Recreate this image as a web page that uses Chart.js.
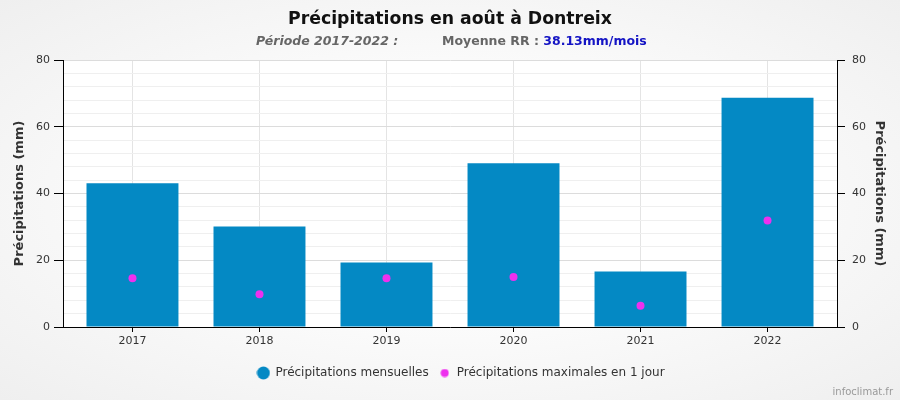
<!DOCTYPE html>
<html><head><meta charset="utf-8">
<script src="https://cdn.jsdelivr.net/npm/chart.js@4/dist/chart.umd.min.js"></script>
<style>
html,body{margin:0;padding:0}
body{width:900px;height:400px;overflow:hidden;position:relative;font-family:"DejaVu Sans",sans-serif;
background:radial-gradient(ellipse at center,#ffffff 0%,#fbfbfb 45%,#efefef 100%)}
#wrap{position:absolute;left:0;top:0;width:900px;height:400px}
#title{position:absolute;top:8px;left:0;width:900px;text-align:center;font-weight:bold;font-size:17.3px;color:#111;line-height:20px}
.sub{position:absolute;top:33px;font-weight:bold;font-size:12.5px;color:#666;line-height:16px;white-space:nowrap}
#credit{position:absolute;right:7px;top:386px;font-size:10px;color:#999}
</style></head>
<body>
<div id="wrap"><canvas id="c" width="900" height="400"></canvas></div>
<div id="title">Précipitations en août à Dontreix</div>
<div class="sub" style="left:256px;font-style:italic">Période 2017-2022 :</div>
<div class="sub" style="left:442px">Moyenne RR : <span style="color:#1414c4">38.13mm/mois</span></div>
<div id="credit">infoclimat.fr</div>
<script>
const years = ['2017','2018','2019','2020','2021','2022'];
const monthlyRain = [43.1, 30.1, 19.3, 49.1, 16.6, 68.7];
const maxDailyRain = [14.6, 9.8, 14.6, 15.0, 6.4, 31.9];
const yTicks = [0, 20, 40, 60, 80];
const seriesNames = ['Précipitations mensuelles', 'Précipitations maximales en 1 jour'];

const BLUE = '#0489c4', MAG = '#ee30ee';
function dot(color, r){
  const c = document.createElement('canvas');
  c.width = c.height = Math.ceil(r*2)+1;
  const g = c.getContext('2d');
  g.fillStyle = color; g.beginPath(); g.arc(c.width/2, c.height/2, r, 0, Math.PI*2); g.fill();
  return c;
}
const legendIcons = [dot(BLUE, 6.5), dot(MAG, 4)];

const isMajor = v => yTicks.includes(v);
const font = {family:'"DejaVu Sans", sans-serif', size:11};

const bgPlugin = {
  id:'bg',
  afterLayout(chart){
    if (chart.legend){ chart.legend.left += 11; chart.legend.right += 11; }
  },
  beforeDraw(chart){
    const {ctx, chartArea:a} = chart;
    ctx.save(); ctx.fillStyle = '#fff'; ctx.fillRect(a.left, a.top, a.right-a.left, a.bottom-a.top); ctx.restore();
  }
};

new Chart(document.getElementById('c'), {
  type:'bar',
  data:{
    datasets:[
      {label:seriesNames[0], data:years.map((y,i)=>({x:i, y:monthlyRain[i]})), backgroundColor:BLUE,
       borderWidth:0, inflateAmount:0,
       barPercentage:0.724, categoryPercentage:1, order:1, yAxisID:'y'},
      {type:'line', label:seriesNames[1], data:years.map((y,i)=>({x:i, y:maxDailyRain[i]})), showLine:false,
       pointRadius:4, pointHoverRadius:4, pointBackgroundColor:MAG, pointBorderWidth:0, borderColor:MAG, backgroundColor:MAG, order:0, yAxisID:'y'}
    ]
  },
  options:{
    responsive:false, animation:false,
    layout:{padding:{top:60, bottom:11, left:0, right:0}},
    plugins:{
      legend:{position:'bottom',
        labels:{usePointStyle:true, padding:10, color:'#333', font:{family:'"DejaVu Sans", sans-serif', size:12},
          generateLabels(chart){
            const items = Chart.defaults.plugins.legend.labels.generateLabels(chart);
            items.sort((a,b)=>a.datasetIndex-b.datasetIndex);
            items.forEach(it=>{ it.pointStyle = legendIcons[it.datasetIndex]; });
            return items;
          }}},
      tooltip:{enabled:false}
    },
    scales:{
      x:{type:'linear', min:-0.547, max:5.547, offset:false,
        afterBuildTicks(s){ s.ticks = years.map((_,i)=>({value:i})); },
        afterFit(s){ s.height = 30; },
        ticks:{callback:v=>years[v], color:'#333', font, padding:3, maxRotation:0, autoSkip:false},
        grid:{offset:false, color:'#e4e4e4', tickColor:'#000', tickLength:5},
        border:{color:'#000', width:1}},
      y:{position:'left', min:0, max:80,
        afterFit(s){ s.width = 63; },
        ticks:{stepSize:4, autoSkip:false, callback:v=>isMajor(v)?v:'', color:'#333', font, padding:4},
        grid:{color:c=>isMajor(c.tick.value)?'#dcdcdc':'#efefef', tickColor:c=>isMajor(c.tick.value)?'#000':'rgba(0,0,0,0)', tickLength:9},
        border:{color:'#000', width:1},
        title:{display:true, text:'Précipitations (mm)', color:'#333', font:{family:'"DejaVu Sans", sans-serif', size:13, weight:'bold'}, padding:{top:12}}},
      y2:{position:'right', min:0, max:80,
        afterFit(s){ s.width = 63; },
        ticks:{stepSize:4, autoSkip:false, callback:v=>isMajor(v)?v:'', color:'#333', font, padding:7},
        grid:{drawOnChartArea:false, tickColor:c=>isMajor(c.tick.value)?'#000':'rgba(0,0,0,0)', tickLength:8},
        border:{color:'#000', width:1},
        title:{display:true, text:'Précipitations (mm)', color:'#333', font:{family:'"DejaVu Sans", sans-serif', size:13, weight:'bold'}, padding:{top:13}}}
    }
  },
  plugins:[bgPlugin]
});
</script>
</body></html>
